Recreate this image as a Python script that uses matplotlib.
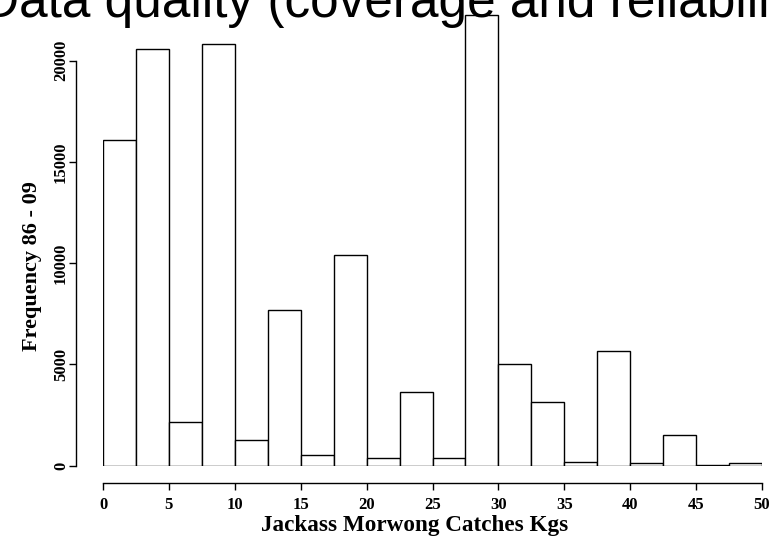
import matplotlib
matplotlib.use("Agg")
import matplotlib.pyplot as plt
import numpy as np

# Data
bin_left = [0, 2.5, 5, 7.5, 10, 12.5, 15, 17.5, 20, 22.5,
            25, 27.5, 30, 32.5, 35, 37.5, 40, 42.5, 45, 47.5]
counts = [16100, 20600, 2150, 20850, 1250, 7700, 530, 10400, 400, 3650,
          400, 22270, 5000, 3150, 180, 5650, 120, 1500, 40, 110]
bin_width = 2.5
x_ticks = [0, 5, 10, 15, 20, 25, 30, 35, 40, 45, 50]
y_ticks = [0, 5000, 10000, 15000, 20000]
title = "Data quality (coverage and reliability)"
xlabel = "Jackass Morwong Catches Kgs"
ylabel = "Frequency 86 - 09"

W, H = 773, 541
fig = plt.figure(figsize=(W / 100, H / 100), dpi=100)
fig.patch.set_facecolor("white")

# axes: x 0->px 103, 50->px 762 ; y 0->px 465.7, 22500->px 10.1
left = 103 / W
width = (762 - 103) / W
bottom = (H - 465.7) / H
height = (465.7 - 10.1) / H
ax = fig.add_axes([left, bottom, width, height])
ax.set_xlim(0, 50)
ax.set_ylim(0, 22500)

ax.bar(bin_left, counts, width=bin_width, align="edge",
       facecolor="white", edgecolor="black", linewidth=1.0)

serif = ["Liberation Serif", "DejaVu Serif"]
for s in ["top", "right"]:
    ax.spines[s].set_visible(False)
ax.spines["bottom"].set_position(("outward", 12.5))
ax.spines["left"].set_position(("outward", 19.5))
ax.spines["bottom"].set_bounds(0, 50)
ax.spines["left"].set_bounds(0, 20000)
for s in ["bottom", "left"]:
    ax.spines[s].set_linewidth(1.0)

ax.set_xticks(x_ticks)
ax.set_yticks(y_ticks)
ax.set_xticklabels([str(t) for t in x_ticks], fontfamily=serif,
                   fontweight="bold", fontsize=12)
ax.set_yticklabels([str(t) for t in y_ticks], fontfamily=serif,
                   fontweight="bold", fontsize=12, rotation=90, va="center")
ax.tick_params(axis="both", direction="out", length=5, width=1.0)
ax.tick_params(axis="x", pad=5)
ax.tick_params(axis="y", pad=0)

# axis titles
fig.text(415 / W, (H - 525) / H, xlabel, fontfamily=serif, fontweight="bold",
         fontsize=16.7, ha="center", va="center")
fig.text(32 / W, (H - 266) / H, ylabel, fontfamily=serif, fontweight="bold",
         fontsize=16, rotation=90, ha="center", va="center")

fig.text(-18 / W, (H - 17) / H, title, fontfamily=["Liberation Sans", "DejaVu Sans"],
         fontsize=37, ha="left", va="baseline", color="black")

fig.savefig("out.png", dpi=100, facecolor="white")
